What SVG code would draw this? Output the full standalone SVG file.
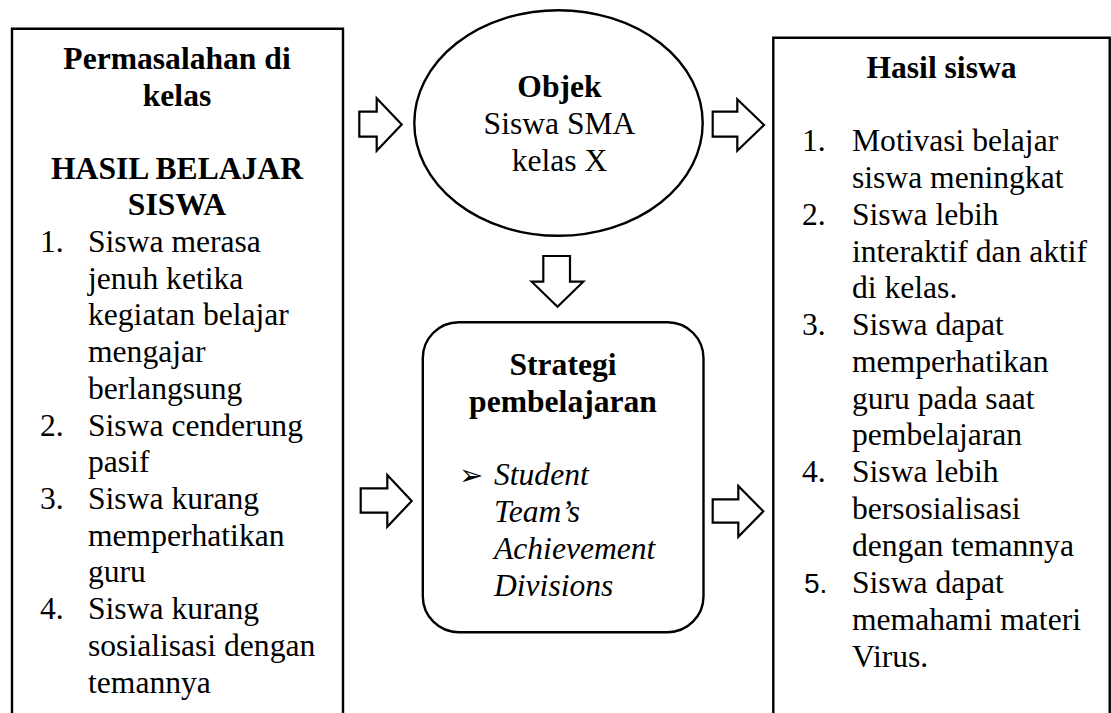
<svg xmlns="http://www.w3.org/2000/svg" width="1111" height="713" viewBox="0 0 1111 713">
<style>
  .shape { fill: #ffffff; stroke: #000000; stroke-width: 2.4; }
  .arrow { fill: #ffffff; stroke: #000000; stroke-width: 2.2; stroke-linejoin: miter; }
  text { font-family: "Liberation Serif", "Times New Roman", serif; font-size: 31.6px; fill: #000000; }
  .b { font-weight: bold; }
  .c { text-anchor: middle; }
  .i { font-style: italic; }
  .sans { font-family: "Liberation Sans", Arial, sans-serif; font-size: 28px; }
  .sym { font-family: "DejaVu Sans", sans-serif; font-size: 29px; }
</style>
<rect width="1111" height="713" fill="#ffffff"/>

<g id="problems">
  <path class="shape" d="M12,730 V28.7 H343 V730" fill="none"/>
  <text class="b c" x="177" y="69">Permasalahan di</text>
  <text class="b c" x="177" y="106">kelas</text>
  <text class="b c" x="177" y="179">HASIL BELAJAR</text>
  <text class="b c" x="177" y="215">SISWA</text>
  <text x="40" y="252">1.</text><text x="88" y="252">Siswa merasa</text>
  <text x="88" y="288.7">jenuh ketika</text>
  <text x="88" y="325.4">kegiatan belajar</text>
  <text x="88" y="362">mengajar</text>
  <text x="88" y="398.8">berlangsung</text>
  <text x="40" y="435.5">2.</text><text x="88" y="435.5">Siswa cenderung</text>
  <text x="88" y="472">pasif</text>
  <text x="40" y="509">3.</text><text x="88" y="509">Siswa kurang</text>
  <text x="88" y="545.6">memperhatikan</text>
  <text x="88" y="582.3">guru</text>
  <text x="40" y="619">4.</text><text x="88" y="619">Siswa kurang</text>
  <text x="88" y="655.7">sosialisasi dengan</text>
  <text x="88" y="692.5">temannya</text>
</g>

<g id="object">
  <ellipse class="shape" cx="558.5" cy="123" rx="144.2" ry="112.8"/>
  <text class="b c" x="559.5" y="97">Objek</text>
  <text class="c" x="559.5" y="134">Siswa SMA</text>
  <text class="c" x="559.5" y="171">kelas X</text>
</g>

<g id="strategy">
  <rect class="shape" x="422.8" y="322.2" width="280.7" height="310" rx="36" ry="36"/>
  <text class="b c" x="563" y="375">Strategi</text>
  <text class="b c" x="563" y="412">pembelajaran</text>
  <text class="sym" x="459" y="485">➢</text>
  <text class="i" x="494" y="485">Student</text>
  <text class="i" x="494" y="522">Team’s</text>
  <text class="i" x="494" y="559">Achievement</text>
  <text class="i" x="494" y="596">Divisions</text>
</g>

<g id="results">
  <path class="shape" d="M773.3,730 V37.8 H1109.7 V730" fill="none"/>
  <text class="b c" x="941.5" y="78">Hasil siswa</text>
  <text x="802" y="151">1.</text><text x="852" y="151">Motivasi belajar</text>
  <text x="852" y="188">siswa meningkat</text>
  <text x="802" y="225">2.</text><text x="852" y="225">Siswa lebih</text>
  <text x="852" y="261.5">interaktif dan aktif</text>
  <text x="852" y="298">di kelas.</text>
  <text x="802" y="335">3.</text><text x="852" y="335">Siswa dapat</text>
  <text x="852" y="372">memperhatikan</text>
  <text x="852" y="408.5">guru pada saat</text>
  <text x="852" y="445">pembelajaran</text>
  <text x="802" y="482">4.</text><text x="852" y="482">Siswa lebih</text>
  <text x="852" y="519">bersosialisasi</text>
  <text x="852" y="556">dengan temannya</text>
  <text class="sans" x="804" y="593">5.</text><text x="852" y="593">Siswa dapat</text>
  <text x="852" y="629.5">memahami materi</text>
  <text x="852" y="666.5">Virus.</text>
</g>

<g id="connectors">
  <polygon class="arrow" points="359.3,111.7 376.7,111.7 376.7,98.3 401.7,124.5 376.7,150.7 376.7,136.7 359.3,136.7"/>
  <polygon class="arrow" points="712.7,111.7 737.3,111.7 737.3,99.3 764,125 737.3,150.7 737.3,136.7 712.7,136.7"/>
  <polygon class="arrow" points="543.3,256 570,256 570,281.7 583.3,281.7 557.5,306.7 531.7,281.7 543.3,281.7"/>
  <polygon class="arrow" points="360.7,488.3 387.3,488.3 387.3,475 411.7,501 387.3,526.7 387.3,512.7 360.7,512.7"/>
  <polygon class="arrow" points="712.7,499.3 738.3,499.3 738.3,486 763.3,511.3 738.3,536.7 738.3,522.7 712.7,522.7"/>
</g>
</svg>
